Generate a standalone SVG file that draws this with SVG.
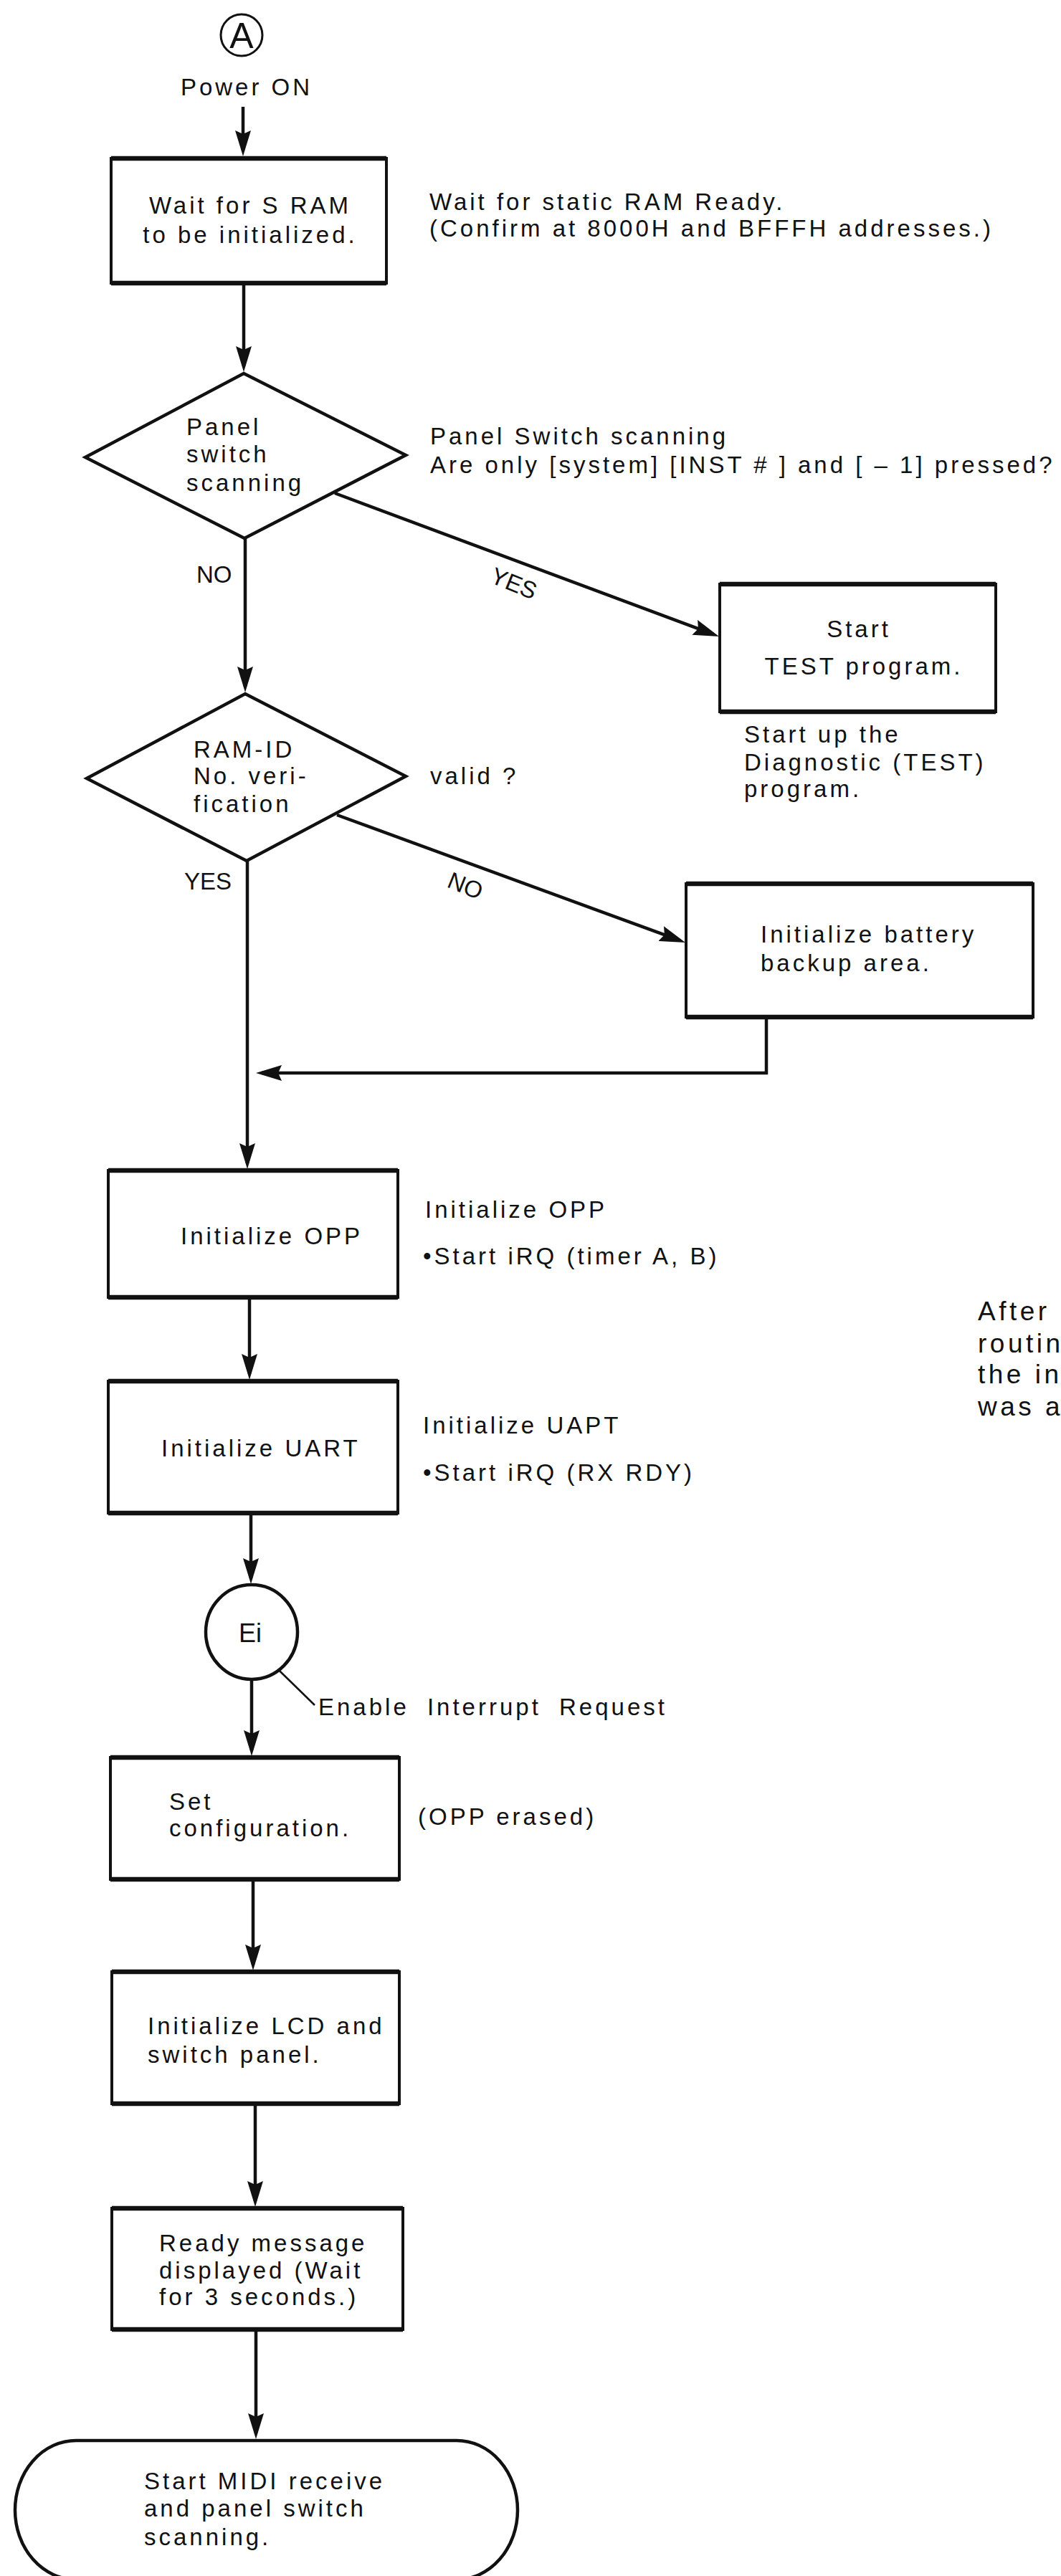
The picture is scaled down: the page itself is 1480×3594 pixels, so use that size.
<svg xmlns="http://www.w3.org/2000/svg" width="1480" height="3594" viewBox="0 0 1480 3594">
<style>
  .t { font-family: "Liberation Sans", Arial, sans-serif; font-size: 33px; letter-spacing: 4px; fill: #111; }
  .lbl { font-family: "Liberation Sans", Arial, sans-serif; font-size: 33px; fill: #111; }
  .big { font-family: "Liberation Sans", Arial, sans-serif; font-size: 37px; letter-spacing: 4.5px; fill: #111; }
  .mid { text-anchor: middle; }
  .shape { fill: #fff; stroke: #111; stroke-width: 4.5; }
  .box { fill: #fff; stroke: #111; stroke-width: 4; }
  .tb { fill: none; stroke: #111; stroke-width: 6.5; }
  .edge { fill: none; stroke: #111; stroke-width: 4.5; }
</style>
<defs>
  <marker id="ah" markerWidth="36" markerHeight="22" refX="28" refY="11" orient="auto" markerUnits="userSpaceOnUse">
    <path d="M0,0 L36,11 L0,22 L5,11 z" fill="#111"/>
  </marker>
</defs>
<rect width="1480" height="3594" fill="#fff"/>

<g id="connectors">
  <line class="edge" x1="339" y1="149" x2="339" y2="210" marker-end="url(#ah)"/>
  <line class="edge" x1="340" y1="395" x2="340" y2="511" marker-end="url(#ah)"/>
  <line class="edge" x1="342" y1="751" x2="342" y2="958" marker-end="url(#ah)"/>
  <line class="edge" x1="467" y1="688" x2="995.5" y2="885.2" marker-end="url(#ah)"/>
  <line class="edge" x1="470" y1="1137" x2="948.5" y2="1312.2" marker-end="url(#ah)"/>
  <line class="edge" x1="345" y1="1201" x2="345" y2="1623" marker-end="url(#ah)"/>
  <polyline class="edge" points="1069,1419 1069,1497 365,1497" marker-end="url(#ah)"/>
  <line class="edge" x1="348" y1="1810" x2="348" y2="1917" marker-end="url(#ah)"/>
  <line class="edge" x1="350" y1="2111" x2="350" y2="2202" marker-end="url(#ah)"/>
  <line class="edge" x1="351" y1="2343" x2="351" y2="2442" marker-end="url(#ah)"/>
  <line class="edge" x1="353" y1="2622" x2="353" y2="2741" marker-end="url(#ah)"/>
  <line class="edge" x1="356" y1="2935" x2="356" y2="3071" marker-end="url(#ah)"/>
  <line class="edge" x1="357" y1="3250" x2="357" y2="3395" marker-end="url(#ah)"/>
  <line fill="none" stroke="#111" stroke-width="2.5" x1="357" y1="2299" x2="439" y2="2379"/>
  <text class="lbl" x="274" y="813">NO</text>
  <text class="lbl" transform="translate(682,812) rotate(22)">YES</text>
  <text class="lbl" x="257" y="1241">YES</text>
  <text class="lbl" transform="translate(622,1237) rotate(22)">NO</text>
</g>

<g id="start-A">
  <circle cx="337" cy="49" r="29" fill="#fff" stroke="#111" stroke-width="3"/>
  <text class="lbl mid" x="337" y="67" style="font-size:50px">A</text>
  <text class="t mid" x="344" y="133">Power ON</text>
</g>

<g id="wait-sram">
  <rect class="box" x="155" y="221" width="384" height="174"/>
  <path class="tb" d="M155,221 H539 M155,395 H539"/>
  <text class="t mid" x="349" y="298">Wait for S RAM</text>
  <text class="t mid" x="349" y="339">to be initialized.</text>
  <text class="t" x="599" y="293">Wait for static RAM Ready.</text>
  <text class="t" x="599" y="330">(Confirm at 8000H and BFFFH addresses.)</text>
</g>

<g id="panel-scan">
  <polygon class="shape" points="340,521 566,635 341,751 119,638"/>
  <text class="t" x="260" y="607">Panel</text>
  <text class="t" x="260" y="645">switch</text>
  <text class="t" x="260" y="685">scanning</text>
  <text class="t" x="600" y="620">Panel Switch scanning</text>
  <text class="t" x="600" y="660">Are only [system] [INST # ] and [ – 1] pressed?</text>
</g>

<g id="test-program">
  <rect class="box" x="1004" y="815" width="385" height="178"/>
  <path class="tb" d="M1004,815 H1389 M1004,993 H1389"/>
  <text class="t mid" x="1198" y="889">Start</text>
  <text class="t mid" x="1205" y="941">TEST program.</text>
  <text class="t" x="1038" y="1036">Start up the</text>
  <text class="t" x="1038" y="1075">Diagnostic (TEST)</text>
  <text class="t" x="1038" y="1112">program.</text>
</g>

<g id="ramid-verify">
  <polygon class="shape" points="342,968 566,1083 344,1201 121,1086"/>
  <text class="t" x="270" y="1057">RAM-ID</text>
  <text class="t" x="270" y="1094">No. veri-</text>
  <text class="t" x="270" y="1133">fication</text>
  <text class="t" x="600" y="1094">valid ?</text>
</g>

<g id="init-battery">
  <rect class="box" x="957" y="1233" width="484" height="186"/>
  <path class="tb" d="M957,1233 H1441 M957,1419 H1441"/>
  <text class="t" x="1061" y="1315">Initialize battery</text>
  <text class="t" x="1061" y="1355">backup area.</text>
</g>

<g id="init-opp">
  <rect class="box" x="151" y="1633" width="404" height="177"/>
  <path class="tb" d="M151,1633 H555 M151,1810 H555"/>
  <text class="t" x="252" y="1736">Initialize OPP</text>
  <text class="t" x="593" y="1699">Initialize OPP</text>
  <text class="t" x="590" y="1764">•Start iRQ (timer A, B)</text>
</g>

<g id="note-after">
  <text class="big" x="1364" y="1842">After</text>
  <text class="big" x="1364" y="1887">routin</text>
  <text class="big" x="1364" y="1930">the in</text>
  <text class="big" x="1364" y="1975">was a</text>
</g>

<g id="init-uart">
  <rect class="box" x="151" y="1927" width="404" height="184"/>
  <path class="tb" d="M151,1927 H555 M151,2111 H555"/>
  <text class="t" x="225" y="2032">Initialize UART</text>
  <text class="t" x="590" y="2000">Initialize UAPT</text>
  <text class="t" x="590" y="2066">•Start iRQ (RX RDY)</text>
</g>

<g id="ei">
  <ellipse class="shape" cx="351" cy="2277" rx="64" ry="66" stroke-width="4"/>
  <text class="lbl mid" x="349" y="2291" style="font-size:36px">Ei</text>
  <text class="t" x="444" y="2393" style="word-spacing:12px">Enable Interrupt Request</text>
</g>

<g id="set-config">
  <rect class="box" x="154" y="2452" width="403" height="170"/>
  <path class="tb" d="M154,2452 H557 M154,2622 H557"/>
  <text class="t" x="236" y="2525">Set</text>
  <text class="t" x="236" y="2562">configuration.</text>
  <text class="t" x="583" y="2546">(OPP erased)</text>
</g>

<g id="init-lcd">
  <rect class="box" x="156" y="2751" width="401" height="184"/>
  <path class="tb" d="M156,2751 H557 M156,2935 H557"/>
  <text class="t" x="206" y="2838">Initialize LCD and</text>
  <text class="t" x="206" y="2878">switch panel.</text>
</g>

<g id="ready-msg">
  <rect class="box" x="156" y="3081" width="406" height="169"/>
  <path class="tb" d="M156,3081 H562 M156,3250 H562"/>
  <text class="t" x="222" y="3141">Ready message</text>
  <text class="t" x="222" y="3179">displayed (Wait</text>
  <text class="t" x="222" y="3216">for 3 seconds.)</text>
</g>

<g id="start-midi">
  <path class="shape" d="M106,3405 H637 A85,97 0 0 1 637,3599 H106 A85,97 0 0 1 106,3405 Z"/>
  <text class="t" x="201" y="3473">Start MIDI receive</text>
  <text class="t" x="201" y="3511">and panel switch</text>
  <text class="t" x="201" y="3551">scanning.</text>
</g>
</svg>
